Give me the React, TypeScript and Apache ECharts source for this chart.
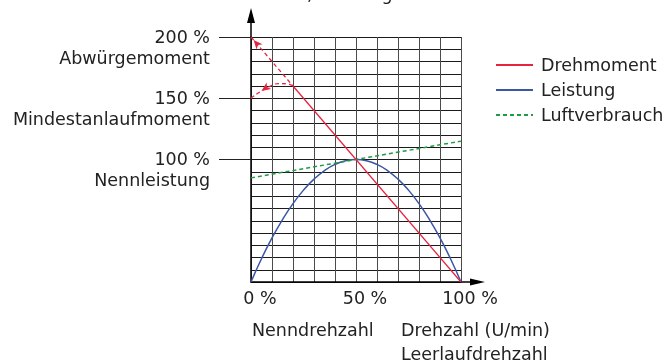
import React, { useEffect, useRef } from "react";
import * as echarts from "echarts";

// ---- data ----
const titleText = "Drehmoment, Leistung";
const xTickValues = [0, 50, 100];
const yTickValues = [100, 150, 200];
const yTickPercent = ["100 %", "150 %", "200 %"];
const yTickNames = ["Nennleistung", "Mindestanlaufmoment", "Abwürgemoment"];

// Drehmoment (torque), solid part
const torqueSolid: [number, number][] = [
  [20, 160],
  [100, 0],
];
// dashed extension up to stall torque
const torqueDashed: [number, number][] = [
  [0, 200],
  [20, 160],
];
// dashed start-up curve from minimum start torque
const torqueStart: [number, number][] = [
  [0, 150],
  [5, 156],
  [10, 160.5],
  [13, 162],
  [17, 161.8],
  [20, 160],
];
// Leistung (power)
const powerX = [0, 5, 10, 15, 20, 25, 30, 35, 40, 45, 50, 55, 60, 65, 70, 75, 80, 85, 90, 95, 100];
const powerY = [0, 19, 36, 51, 64, 75, 84, 91, 96, 99, 100, 99, 96, 91, 84, 75, 64, 51, 36, 19, 0];
// Luftverbrauch (air consumption)
const airData: [number, number][] = [
  [0, 85],
  [100, 115],
];

const bottomLabels = ["Nenndrehzahl", "Drehzahl (U/min)", "Leerlaufdrehzahl"];

const FONT = "DejaVu Sans";
const TXT = "#222";
const RED = "#e62440";
const BLUE = "#3a56a4";
const GREEN = "#1f9a45";
const FS = 17.5;

export default function App() {
  const ref = useRef<HTMLDivElement>(null);

  useEffect(() => {
    if (!ref.current) return;
    const chart = echarts.init(ref.current, null, { renderer: "svg" });

    const option: any = {
      animation: false,
      textStyle: { fontFamily: FONT, color: TXT },
      grid: { left: 251, top: 37, right: 204, bottom: 78, containLabel: false },
      legend: {
        orient: "vertical",
        left: 495,
        top: 55,
        padding: 0,
        itemWidth: 37,
        itemHeight: 14,
        itemGap: 5,
        itemStyle: { opacity: 0 },
        data: ["Drehmoment", "Leistung", "Luftverbrauch"],
        textStyle: { fontFamily: FONT, fontSize: FS, color: TXT, lineHeight: 20, padding: [0, 0, 0, 3] },
      },
      xAxis: {
        type: "value",
        min: 0,
        max: 100,
        interval: 10,
        axisLine: { show: true, lineStyle: { color: "#000", width: 1.5 } },
        axisTick: { show: false },
        splitLine: { show: true, lineStyle: { color: "#4a4a4a", width: 1 } },
        axisLabel: {
          customValues: xTickValues,
          formatter: (v: number) => (xTickValues.includes(v) ? v + " %" : ""),
          margin: 7,
          fontFamily: FONT,
          fontSize: FS,
          color: TXT,
          padding: [0, 0, 0, 18],
        },
      },
      yAxis: [
        {
          type: "value",
          min: 0,
          max: 200,
          interval: 10,
          axisLine: { show: true, lineStyle: { color: "#000", width: 1.5 } },
          axisTick: { show: false },
          axisLabel: { show: false },
          splitLine: { show: true, lineStyle: { color: "#1a1a1a", width: 1 } },
        },
        {
          type: "value",
          position: "left",
          min: 0,
          max: 200,
          interval: 50,
          axisLine: { show: false },
          axisTick: { show: true, customValues: yTickValues, length: 32, lineStyle: { color: "#222", width: 1 } },
          axisLabel: { show: false },
          splitLine: { show: false },
        },
      ],
      series: [
        {
          name: "Drehmoment",
          type: "line",
          data: torqueSolid,
          symbol: "none",
          lineStyle: { color: RED, width: 1.3 },
          itemStyle: { color: RED },
          z: 5,
        },
        {
          name: "Drehmoment-Abwürgen",
          type: "line",
          data: torqueDashed.map((p, i) =>
            i === 0
              ? { value: p, symbol: "arrow", symbolSize: [6, 9], symbolRotate: 41, symbolOffset: [2.6, 3] }
              : { value: p, symbol: "none" }
          ),
          showSymbol: true,
          symbol: "none",
          lineStyle: { color: RED, width: 1.3, type: [4, 3] },
          itemStyle: { color: RED },
          z: 5,
        },
        {
          name: "Drehmoment-Anlauf",
          type: "line",
          smooth: true,
          data: torqueStart.map((p, i) =>
            i === 1
              ? { value: p, symbol: "arrow", symbolSize: [6, 9], symbolRotate: 125 }
              : { value: p, symbol: "none" }
          ),
          showSymbol: true,
          symbol: "none",
          lineStyle: { color: RED, width: 1.3, type: [4, 3] },
          itemStyle: { color: RED },
          z: 5,
        },
        {
          name: "Leistung",
          type: "line",
          smooth: true,
          data: powerX.map((x, i) => [x, powerY[i]]),
          symbol: "none",
          lineStyle: { color: BLUE, width: 1.5 },
          itemStyle: { color: BLUE },
          z: 4,
        },
        {
          name: "Luftverbrauch",
          type: "line",
          data: airData,
          symbol: "none",
          lineStyle: { color: GREEN, width: 1.5, type: [4, 3] },
          itemStyle: { color: GREEN },
          z: 4,
        },
      ],
    };

    chart.setOption(option);

    const px = (x: number, y: number) => chart.convertToPixel({ xAxisIndex: 0, yAxisIndex: 0 }, [x, y]) as number[];
    const o = px(0, 0);
    const t = px(0, 200);
    const r = px(100, 0);
    const m = px(50, 0);
    const font = `${FS}px "${FONT}"`;

    const yLabelGraphics: any[] = [];
    yTickValues.forEach((v, i) => {
      const p = px(0, v);
      yLabelGraphics.push({
        type: "text",
        x: p[0] - 41,
        y: p[1] - 0.5,
        style: { text: yTickPercent[i], font, fill: TXT, textAlign: "right", textVerticalAlign: "middle" },
      });
      yLabelGraphics.push({
        type: "text",
        x: p[0] - 41,
        y: p[1] + 20.5,
        style: { text: yTickNames[i], font, fill: TXT, textAlign: "right", textVerticalAlign: "middle" },
      });
    });

    chart.setOption({
      graphic: [
        // y axis extension + arrow
        { type: "line", shape: { x1: t[0], y1: t[1], x2: t[0], y2: t[1] - 16 }, style: { stroke: "#000", lineWidth: 1.5 } },
        {
          type: "polygon",
          shape: { points: [[t[0], t[1] - 29], [t[0] - 4, t[1] - 14], [t[0] + 4, t[1] - 14]] },
          style: { fill: "#000" },
        },
        // x axis extension + arrow
        { type: "line", shape: { x1: r[0], y1: r[1], x2: r[0] + 12, y2: r[1] }, style: { stroke: "#000", lineWidth: 1.5 } },
        {
          type: "polygon",
          shape: { points: [[r[0] + 24, r[1]], [r[0] + 9, r[1] - 3.5], [r[0] + 9, r[1] + 3.5]] },
          style: { fill: "#000" },
        },
        ...yLabelGraphics,
        // title (mostly cut off at the top, as in the reference)
        {
          type: "text",
          x: 292,
          y: -6,
          style: { text: titleText, font, fill: TXT, textAlign: "center", textVerticalAlign: "middle" },
        },
        // bottom annotations
        {
          type: "text",
          x: o[0] + 1,
          y: o[1] + 48,
          style: { text: bottomLabels[0], font, fill: TXT, textAlign: "left", textVerticalAlign: "middle" },
        },
        {
          type: "text",
          x: m[0] + 45,
          y: o[1] + 48,
          style: { text: bottomLabels[1], font, fill: TXT, textAlign: "left", textVerticalAlign: "middle" },
        },
        {
          type: "text",
          x: m[0] + 45,
          y: o[1] + 72,
          style: { text: bottomLabels[2], font, fill: TXT, textAlign: "left", textVerticalAlign: "middle" },
        },
      ],
    });

    return () => chart.dispose();
  }, []);

  return <div ref={ref} style={{ position: "fixed", left: 0, top: 0, width: 665, height: 360 }} />;
}
